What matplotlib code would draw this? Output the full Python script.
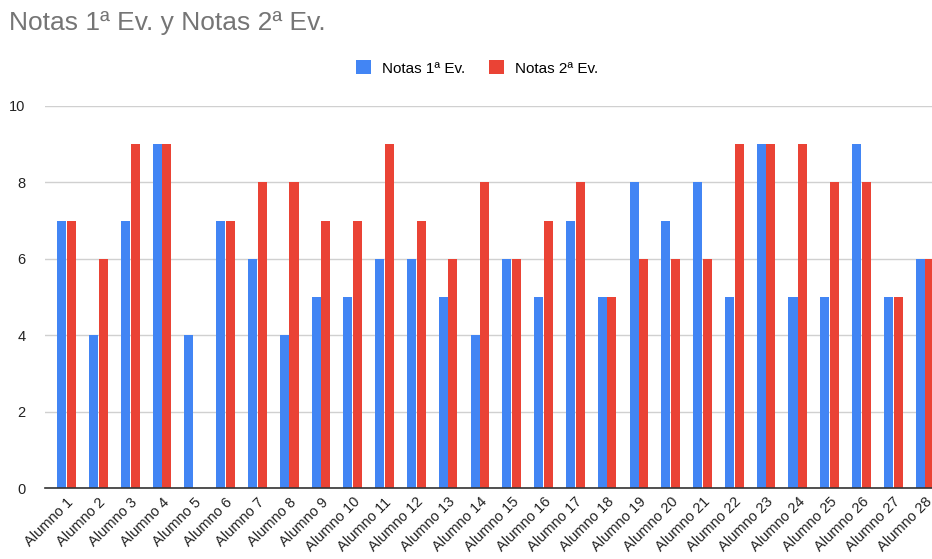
import numpy as np
import matplotlib

matplotlib.use("Agg")
import matplotlib.pyplot as plt

plt.rcParams["font.family"] = ["Liberation Sans", "DejaVu Sans"]

students = [f"Alumno {i}" for i in range(1, 29)]
notas_1 = [7, 4, 7, 9, 4, 7, 6, 4, 5, 5, 6, 6, 5, 4, 6, 5, 7, 5, 8, 7, 8, 5, 9, 5, 5, 9, 5, 6]
notas_2 = [7, 6, 9, 9, 0, 7, 8, 8, 7, 7, 9, 7, 6, 8, 6, 7, 8, 5, 6, 6, 6, 9, 9, 9, 8, 8, 5, 6]
y_ticks = [0, 2, 4, 6, 8, 10]

BLUE = "#4285F4"
RED = "#EA4335"

fig = plt.figure(figsize=(9.32, 5.59), dpi=100)
ax = fig.add_axes([45 / 932, 71 / 559, 887 / 932, 382 / 559])

x = np.arange(len(students))
w = 0.285
ax.bar(x - 0.152, notas_1, width=w, color=BLUE, label="Notas 1ª Ev.", zorder=3)
ax.bar(x + 0.152, notas_2, width=w, color=RED, label="Notas 2ª Ev.", zorder=3)

ax.set_xlim(-0.68, 27.22)
ax.set_ylim(0, 10)
ax.set_yticks(y_ticks)
ax.set_yticklabels([str(v) for v in y_ticks], fontsize=10.5, color="#222222")
ax.set_xticks(x)
ax.set_xticklabels(students, rotation=45, ha="right", rotation_mode="anchor",
                   fontsize=10.5, color="#222222")
ax.tick_params(axis="both", length=0)
ax.tick_params(axis="x", pad=5)
ax.tick_params(axis="y", pad=14)
ax.grid(axis="y", color="#d0d0d0", linewidth=1, zorder=0)
for side in ["top", "right", "left"]:
  ax.spines[side].set_visible(False)
ax.spines["bottom"].set_color("#333333")
ax.spines["bottom"].set_linewidth(1.2)
ax.spines["bottom"].set_zorder(4)

fig.text(9 / 932, 1 - 23 / 559, "Notas 1ª Ev. y Notas 2ª Ev.", fontsize=19,
         color="#757575", va="center", ha="left")
fig.legend(loc="center", bbox_to_anchor=(477 / 932, 1 - 68 / 559), ncol=2,
           frameon=False, fontsize=11, handlelength=1.0, handleheight=1.0,
           columnspacing=1.6, handletextpad=0.7)

fig.savefig("out.png", dpi=100)
